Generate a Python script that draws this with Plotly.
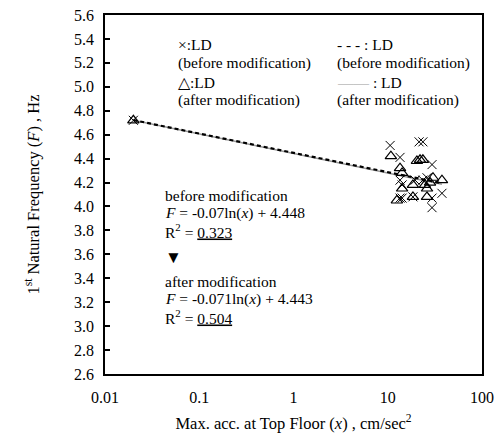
import numpy as np
import plotly.graph_objects as go

# before modification (x markers)
before_x = [0.02, 10.6, 21.5, 23.6, 13.5, 29.5, 13.5, 14.2, 19.5, 23.6, 26.1, 13.5, 14.2, 18.5, 29.5, 37.6, 29.5]
before_y = [4.72, 4.51, 4.54, 4.54, 4.41, 4.35, 4.22, 4.18, 4.22, 4.22, 4.24, 4.07, 4.07, 4.08, 4.07, 4.11, 3.99]
# after modification (triangles)
after_x = [0.02, 10.8, 20.4, 22.0, 23.6, 13.5, 14.2, 14.2, 18.5, 24.8, 28.1, 26.1, 18.5, 26.1, 30.2, 37.6, 12.5]
after_y = [4.72, 4.42, 4.38, 4.39, 4.39, 4.32, 4.28, 4.15, 4.18, 4.18, 4.20, 4.15, 4.08, 4.08, 4.24, 4.22, 4.05]

fit_before = (-0.07, 4.448)
fit_after = (-0.071, 4.443)

y_ticks = [2.6, 2.8, 3.0, 3.2, 3.4, 3.6, 3.8, 4.0, 4.2, 4.4, 4.6, 4.8, 5.0, 5.2, 5.4, 5.6]
x_ticks = [0.01, 0.1, 1, 10, 100]
x_tick_labels = ["0.01", "0.1", "1", "10", "100"]

FONT = "Liberation Serif, Times New Roman, serif"

lx = np.logspace(np.log10(min(before_x)), np.log10(max(before_x)), 50)

fig = go.Figure()
fig.add_trace(go.Scatter(x=lx, y=fit_after[0] * np.log(lx) + fit_after[1], mode="lines",
                         line=dict(color="#999999", width=1.5), showlegend=False))
fig.add_trace(go.Scatter(x=lx, y=fit_before[0] * np.log(lx) + fit_before[1], mode="lines",
                         line=dict(color="black", width=2.2, dash="4px,3px"), showlegend=False))
fig.add_trace(go.Scatter(x=before_x, y=before_y, mode="markers",
                         marker=dict(symbol="x-thin-open", size=9, color="black",
                                     line=dict(color="black", width=1)), showlegend=False))
fig.add_trace(go.Scatter(x=after_x, y=after_y, mode="markers",
                         marker=dict(symbol="triangle-up-open", size=10, color="black",
                                     line=dict(color="black", width=1.2)), showlegend=False))

ann = []
def txt(x, y, t, size=15.5):
    ann.append(dict(xref="paper", yref="paper", x=x, y=y, text=t, showarrow=False,
                    xanchor="left", yanchor="middle", font=dict(family=FONT, size=size, color="black")))

# plot area: x 105..482 px, y 15..374 px
def px(xp):
    return (xp - 105) / 377
def py(yp):
    return 1 - (yp - 15) / 359

txt(px(176), py(44), "×:LD")
txt(px(176), py(63), "(before modification)")
txt(px(176), py(82), "△:LD")
txt(px(176), py(100), "(after modification)")
txt(px(335), py(44), "- - - : LD")
txt(px(335), py(63), "(before modification)")
txt(px(335), py(82), "<span style='color:#999999'>——</span> : LD")
txt(px(335), py(100), "(after modification)")

txt(px(163), py(195), "before modification")
txt(px(163), py(213), "<i>F</i> = -0.07ln(<i>x</i>) + 4.448")
txt(px(163), py(231), "R<sup>2</sup> = <u>0.323</u>")
txt(px(163), py(257), "▼", size=17)
txt(px(163), py(281), "after modification")
txt(px(163), py(299), "<i>F</i> = -0.071ln(<i>x</i>) + 4.443")
txt(px(163), py(317), "R<sup>2</sup> = <u>0.504</u>")

fig.update_layout(
    width=496, height=440,
    margin=dict(l=105, r=14, t=15, b=66),
    paper_bgcolor="white", plot_bgcolor="white",
    font=dict(family=FONT, size=16, color="black"),
    annotations=ann,
    xaxis=dict(type="log", range=[-2, 2], tickvals=x_ticks, ticktext=x_tick_labels,
               showline=True, linecolor="black", linewidth=1.5, mirror=True,
               ticks="", showgrid=False, zeroline=False, automargin=False,
               ticklabelstandoff=8,
               tickfont=dict(family=FONT, size=16),
               title=dict(text="Max. acc. at Top Floor (<i>x</i>) , cm/sec<sup>2</sup>",
                          font=dict(family=FONT, size=16.5), standoff=12)),
    yaxis=dict(range=[2.6, 5.6], tickvals=y_ticks, ticktext=[f"{v:.1f}" for v in y_ticks],
               showline=True, linecolor="black", linewidth=1.5, mirror=True,
               ticks="inside", ticklen=5, tickcolor="black", tickwidth=1.5,
               showgrid=False, zeroline=False, automargin=False,
               ticklabelstandoff=6,
               tickfont=dict(family=FONT, size=16),
               title=dict(text="1<sup>st</sup> Natural Frequency (<i>F</i>) , Hz",
                          font=dict(family=FONT, size=16.5), standoff=30)),
)

fig.write_html("out.html")
